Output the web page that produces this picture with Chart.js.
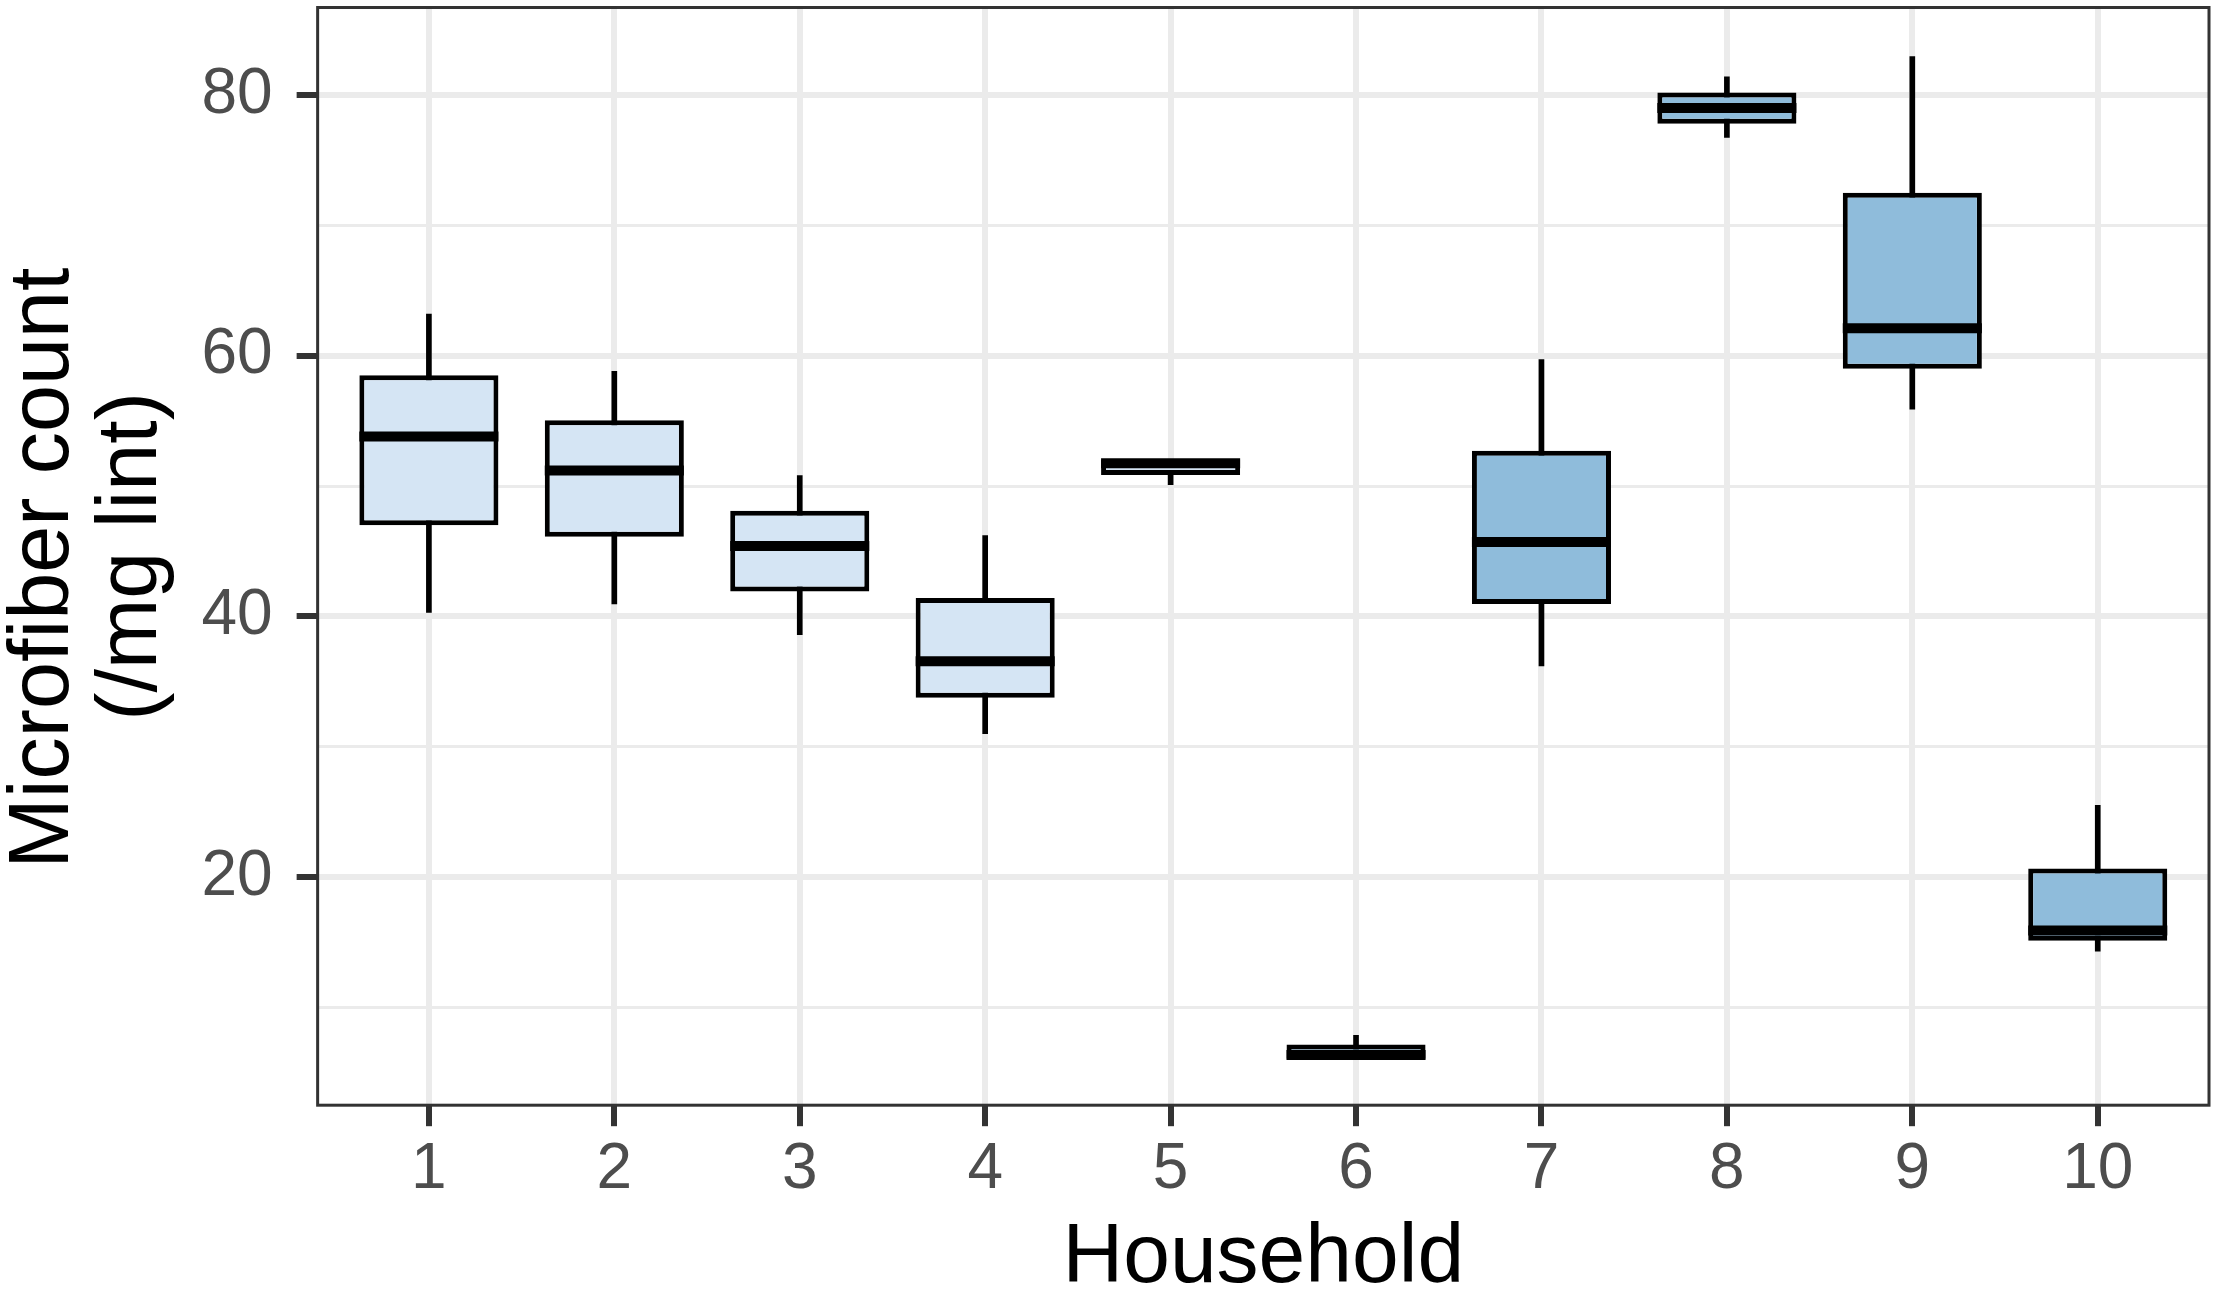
<!DOCTYPE html>
<html>
<head>
<meta charset="utf-8">
<title>Microfiber count by household</title>
<script src="https://cdn.jsdelivr.net/npm/chart.js@4.4.1/dist/chart.umd.min.js"></script>
<style>
  html, body { margin: 0; padding: 0; background: #fff; }
  #wrap { width: 2217px; height: 1301px; position: relative; }
</style>
</head>
<body>
<div id="wrap"><canvas id="boxChart"></canvas></div>
<script>
// valores (contagem de microfibras / mg de fiapos)
const households = [1, 2, 3, 4, 5, 6, 7, 8, 9, 10];
const whiskerLow  = [40.3, 40.95, 38.6, 31.0, 50.1, 6.0, 36.2, 76.75, 55.9, 14.3];
const q1          = [47.0, 46.1, 41.9, 33.75, 50.85, 6.05, 40.95, 77.8, 59.0, 15.1];
const medians     = [53.8, 51.2, 45.4, 36.55, 51.75, 6.35, 45.7, 79.0, 62.1, 15.9];
const q3          = [58.5, 55.05, 48.1, 41.4, 52.0, 7.15, 52.7, 80.2, 72.5, 20.65];
const whiskerHigh = [63.2, 58.8, 50.8, 46.2, 52.0, 7.85, 59.7, 81.4, 82.95, 25.5];
const groupOf     = [0, 0, 0, 0, 0, 1, 1, 1, 1, 1];

const yMajorTicks = [20, 40, 60, 80];
const yMinorTicks = [10, 30, 50, 70];

const FONT = '"Liberation Sans", Arial, Helvetica, sans-serif';
const groupFill = ['#d5e5f4', '#8fbcdb'];

const isMajor = v => yMajorTicks.includes(v);

// sem folga extra para os rótulos das pontas (ggplot não reserva)
const noEdgePadding = scale => {
    scale.paddingTop = 0;
    scale.paddingBottom = 0;
    scale.paddingLeft = 0;
    scale.paddingRight = 0;
};

// linha da mediana + borda do painel
const boxExtras = {
    id: 'boxExtras',
    afterDatasetsDraw(chart) {
        const meta = chart.getDatasetMeta(1);
        const y = chart.scales.y;
        const ctx = chart.ctx;
        ctx.save();
        ctx.strokeStyle = '#000';
        ctx.lineWidth = 10;
        ctx.lineCap = 'butt';
        meta.data.forEach((bar, i) => {
            const py = y.getPixelForValue(medians[i]);
            ctx.beginPath();
            ctx.moveTo(bar.x - bar.width / 2, py);
            ctx.lineTo(bar.x + bar.width / 2, py);
            ctx.stroke();
        });
        ctx.restore();
    },
    afterDraw(chart) {
        const a = chart.chartArea;
        const ctx = chart.ctx;
        ctx.save();
        ctx.strokeStyle = '#333333';
        ctx.lineWidth = 3;
        ctx.strokeRect(a.left, a.top, a.right - a.left, a.bottom - a.top);
        ctx.restore();
    }
};

new Chart(document.getElementById('boxChart'), {
    type: 'bar',
    data: {
        datasets: [
            {
                label: 'whiskers',
                data: households.map((h, i) => ({ x: h, y: [whiskerLow[i], whiskerHigh[i]] })),
                backgroundColor: '#000',
                borderWidth: 0,
                barThickness: 5,
                grouped: false,
                order: 2
            },
            {
                label: 'box',
                data: households.map((h, i) => ({ x: h, y: [q1[i], q3[i]] })),
                backgroundColor: households.map((h, i) => groupFill[groupOf[i]]),
                borderColor: '#000',
                borderWidth: 5,
                borderSkipped: false,
                barPercentage: 0.75,
                categoryPercentage: 1,
                grouped: false,
                order: 1
            }
        ]
    },
    options: {
        responsive: true,
        maintainAspectRatio: false,
        animation: false,
        layout: { padding: { top: 7.5, right: 8, left: 0, bottom: 0 } },
        plugins: { legend: { display: false }, tooltip: { enabled: false } },
        scales: {
            x: {
                type: 'linear',
                min: 0.4,
                max: 10.6,
                offset: false,
                afterBuildTicks: axis => { axis.ticks = households.map(v => ({ value: v })); },
                afterFit: noEdgePadding,
                border: { display: false },
                grid: { offset: false, color: '#ebebeb', lineWidth: 6, tickColor: '#333333', tickWidth: 6, tickLength: 21 },
                ticks: {
                    autoSkip: false, maxRotation: 0, padding: 6,
                    color: '#4d4d4d', font: { family: FONT, size: 64 },
                    callback: v => String(v)
                },
                title: {
                    display: true, text: 'Household', color: '#000',
                    font: { family: FONT, size: 84, lineHeight: 1.0 },
                    padding: { top: 2, bottom: 0 }
                }
            },
            y: {
                min: 2.49,
                max: 86.72,
                afterBuildTicks: axis => {
                    axis.ticks = yMinorTicks.concat(yMajorTicks).sort((a, b) => a - b).map(v => ({ value: v }));
                },
                afterFit: noEdgePadding,
                border: { display: false },
                grid: {
                    color: '#ebebeb',
                    lineWidth: c => isMajor(c.tick.value) ? 6 : 3,
                    tickColor: c => isMajor(c.tick.value) ? '#333333' : 'rgba(0,0,0,0)',
                    tickWidth: 6,
                    tickLength: 21
                },
                ticks: {
                    autoSkip: false, padding: 24,
                    color: '#4d4d4d', font: { family: FONT, size: 64 },
                    callback: v => isMajor(v) ? String(v) : ''
                },
                title: {
                    display: true, text: ['Microfiber count ', '(/mg lint)'], color: '#000',
                    font: { family: FONT, size: 84.5, lineHeight: 1.05 },
                    padding: { top: 0, bottom: 0 }
                }
            }
        }
    },
    plugins: [boxExtras]
});
</script>
</body>
</html>
